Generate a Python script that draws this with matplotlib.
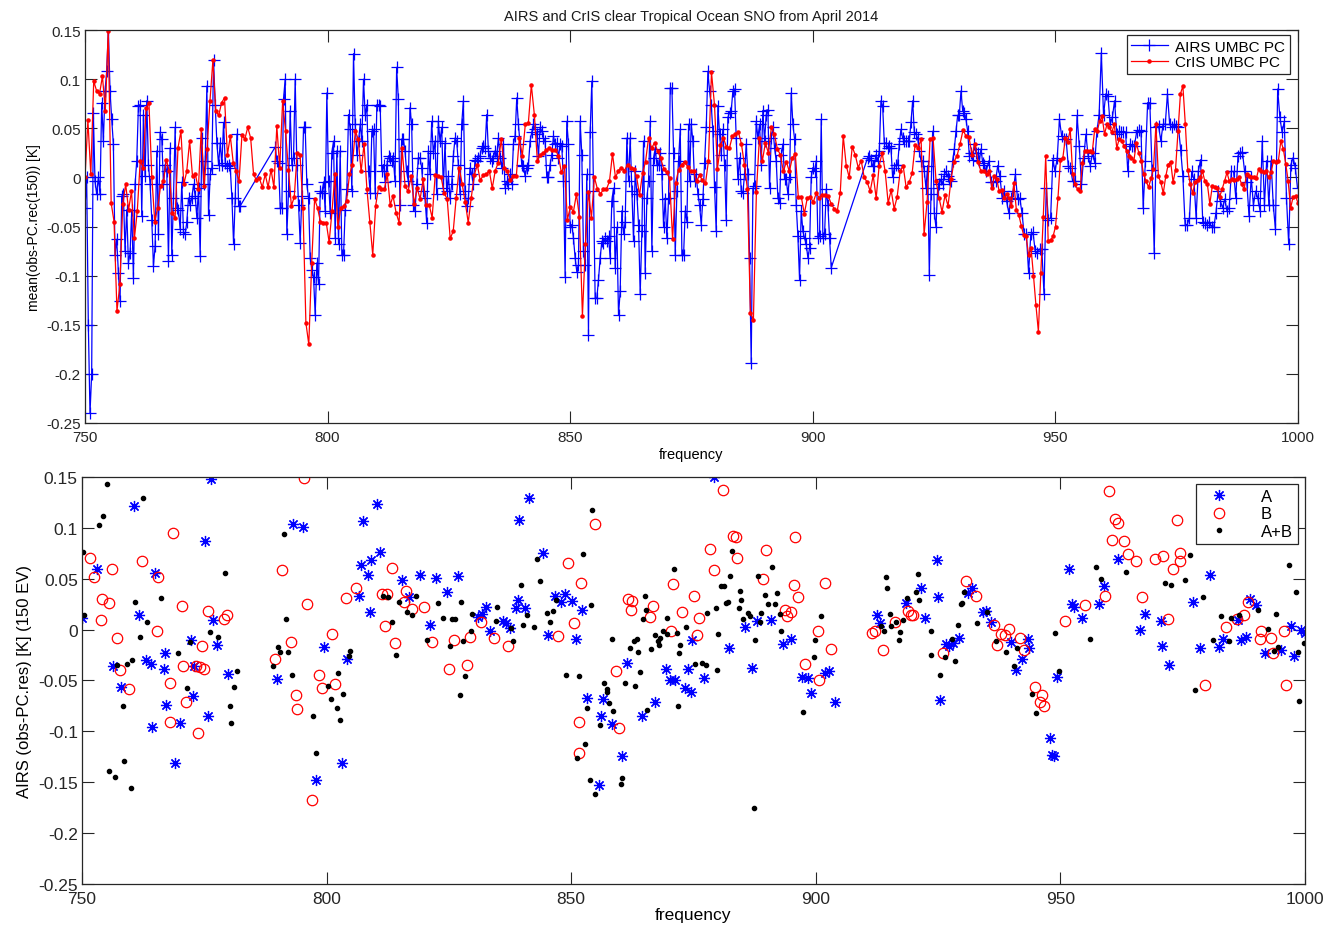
import matplotlib
matplotlib.use("Agg")
import matplotlib.pyplot as plt
import numpy as np
from matplotlib.ticker import FuncFormatter

plt.rcParams["font.family"] = ["Liberation Sans", "DejaVu Sans"]
plt.rcParams["axes.unicode_minus"] = False

# ---------------- top panel: mean(obs - PC rec) ----------------
# AIRS UMBC PC, pieces of (start freq, end freq, values); pieces are joined by straight lines
AIRS_P1 = (750.0, 782.0, [
    -0.031, 0.000, -0.150, -0.240, -0.200, 0.066, -0.004, -0.017, 0.000, -0.017,
    0.076, 0.037, 0.088, 0.108, 0.151, 0.088, 0.059, 0.034, -0.079, -0.063,
    -0.097, -0.126, -0.019, -0.017, -0.075, -0.033, -0.087, -0.077, -0.033, -0.102,
    -0.007, 0.017, 0.073, 0.074, -0.039, 0.064, 0.001, 0.078, 0.013, -0.007,
    -0.043, -0.090, -0.070, 0.027, -0.058, 0.046, 0.039, -0.007, 0.013, 0.006,
    -0.085, 0.030, -0.079, -0.021, 0.051, -0.031, -0.033, -0.053, -0.005, -0.056,
    -0.058, -0.045, -0.021, -0.028, -0.021, -0.007, -0.019, -0.041, -0.011, -0.080,
    0.040, -0.007, 0.017, 0.093, -0.038, 0.003, 0.010, 0.120, 0.074, 0.035,
    0.013, 0.035, 0.013, 0.056, 0.015, 0.012, 0.013, 0.010, -0.021, -0.068,
    -0.021, 0.044, -0.029, -0.029])
AIRS_P2 = (789.2, 812.9, [
    0.031, 0.017, 0.015, -0.031, -0.031, 0.080, 0.100, -0.058, -0.014, 0.068,
    0.013, 0.020, 0.100, 0.013, -0.028, -0.067, -0.019, 0.051, 0.051, -0.007,
    -0.021, -0.082, -0.094, -0.101, -0.140, -0.087, -0.109, -0.014, -0.016, -0.005,
    -0.034, 0.086, -0.004, -0.036, 0.025, 0.037, -0.062, 0.027, -0.068, 0.027,
    -0.079, -0.079, -0.033, -0.012, 0.064, 0.049, -0.014, 0.126, 0.054, 0.023,
    0.037, 0.054, 0.037, 0.100, 0.063, 0.074, 0.006, -0.016, 0.047, 0.049,
    -0.016, 0.074, 0.074, 0.073, 0.006, 0.013, -0.005, 0.013, 0.022, 0.020])
AIRS_P3 = (813.2, 874.4, [
    0.017, 0.020, -0.004, 0.112, 0.080, -0.028, 0.039, 0.039, 0.027, 0.006,
    -0.004, 0.071, 0.054, -0.028, -0.034, -0.007, 0.020, 0.020, 0.010, -0.014,
    -0.021, -0.046, 0.027, 0.003, 0.057, 0.025, 0.037, -0.017, 0.057, 0.037,
    0.051, -0.011, 0.035, -0.014, 0.001, -0.021, -0.007, 0.022, 0.040, 0.037,
    0.013, -0.017, 0.054, 0.078, -0.014, -0.029, -0.021, 0.010, 0.003, -0.007,
    0.018, 0.017, 0.020, 0.022, 0.030, 0.032, 0.030, 0.064, 0.027, 0.020,
    0.017, 0.020, 0.027, 0.022, 0.040, 0.020, 0.010, 0.034, -0.011, -0.004,
    -0.007, 0.003, -0.007, 0.034, 0.042, 0.081, 0.054, 0.034, 0.013, 0.012,
    0.001, 0.010, 0.013, 0.037, 0.046, 0.054, 0.049, 0.044, 0.022, 0.051,
    0.047, 0.040, 0.037, 0.000, 0.000, 0.013, 0.023, 0.042, 0.034, 0.035,
    0.020, 0.034, 0.032, -0.004, -0.101, 0.057, 0.034, -0.051, -0.048, -0.062,
    -0.082, -0.096, -0.089, 0.057, 0.023, -0.075, -0.089, 0.003, -0.160, 0.046,
    0.098, -0.014, -0.123, -0.123, -0.104, -0.082, -0.065, -0.067, -0.062, -0.065,
    -0.060, -0.082, -0.024, -0.011, -0.092, -0.051, -0.140, -0.116, -0.034, -0.058,
    -0.045, 0.040, -0.004, 0.040, -0.014, -0.065, 0.006, -0.017, -0.048, -0.119,
    -0.055, 0.037, -0.097, -0.021, -0.004, 0.057, -0.075, 0.020, 0.029, 0.013,
    0.013, 0.025, 0.003, -0.050, -0.022, -0.062, -0.021, 0.091, 0.091, 0.025,
    -0.079, -0.014, 0.017, 0.049, -0.079, -0.079, -0.034, -0.045, 0.054])
AIRS_P4 = (874.6, 903.8, [
    -0.004, 0.054, 0.037, -0.004, 0.003, -0.017, -0.028, -0.048, -0.022, 0.015,
    0.051, 0.108, 0.088, 0.074, 0.047, -0.010, -0.055, 0.073, 0.044, 0.023,
    0.049, 0.013, -0.043, 0.061, 0.066, 0.068, 0.088, 0.090, 0.040, -0.002,
    0.020, -0.014, -0.016, 0.003, 0.034, 0.003, -0.082, -0.189, -0.011, -0.009,
    0.057, 0.040, 0.054, 0.013, 0.068, 0.037, 0.064, 0.069, -0.011, 0.040,
    0.051, 0.030, 0.017, -0.021, -0.026, 0.023, 0.034, -0.002, -0.002, -0.017,
    0.000, 0.086, 0.054, 0.039, -0.028, -0.060, -0.104, -0.034, -0.055, -0.062,
    -0.068, -0.082, -0.072, 0.000, 0.010, 0.006, 0.017, -0.062, -0.060, 0.059,
    -0.062, -0.058, -0.012, -0.028, -0.062, -0.092])
AIRS_P5 = (911.3, 935.7, [
    0.020, 0.022, 0.018, 0.012, 0.012, 0.023, 0.017, 0.027, 0.078, 0.073,
    0.035, 0.035, 0.030, 0.032, 0.030, 0.000, 0.010, 0.013, 0.013, 0.034,
    0.049, 0.040, 0.037, 0.037, 0.037, 0.037, 0.056, 0.078, 0.046, 0.044,
    0.040, 0.027, 0.017, 0.017, 0.006, -0.011, 0.012, -0.099, -0.017, 0.047,
    -0.036, -0.051, -0.011, -0.007, -0.002, -0.007, 0.003, 0.006, 0.001, -0.002,
    -0.004, 0.017, 0.029, 0.047, 0.063, 0.064, 0.088, 0.068, 0.066, 0.059,
    0.047, 0.022, 0.025, 0.018, 0.034, 0.025, 0.025, 0.017, 0.029, 0.015,
    0.013, 0.006])
AIRS_P6 = (936.3, 999.9, [
    0.017, -0.005, -0.005, -0.004, 0.012, 0.001, -0.021, -0.014, -0.024, -0.036,
    -0.021, -0.014, 0.003, -0.022, -0.021, -0.036, -0.058, -0.058, -0.097, -0.058,
    -0.056, -0.075, -0.077, -0.073, -0.073, -0.119, -0.011, -0.043, -0.041, 0.018,
    0.006, 0.020, 0.059, 0.042, 0.039, 0.039, 0.012, 0.010, -0.004, -0.004,
    0.063, 0.032, -0.007, 0.020, 0.044, 0.022, 0.012, 0.025, 0.015, 0.047,
    0.064, 0.127, 0.063, 0.085, 0.083, 0.054, 0.061, 0.078, 0.044, 0.047,
    0.046, 0.046, 0.046, 0.006, 0.034, 0.032, 0.032, 0.046, 0.048, 0.047,
    -0.031, 0.017, 0.076, 0.076, 0.008, -0.077, 0.051, 0.052, 0.037, 0.054,
    0.054, 0.085, 0.054, 0.051, 0.054, 0.052, 0.051, 0.028, 0.001, -0.048,
    -0.048, -0.041, 0.006, -0.002, -0.041, 0.006, 0.018, -0.045, -0.046, -0.048,
    -0.045, -0.051, -0.051, -0.036, -0.014, -0.024, -0.031, -0.022, -0.034, -0.031,
    0.006, 0.006, -0.021, 0.022, 0.025, 0.026, 0.006, -0.005, -0.039, 0.000,
    -0.028, -0.014, -0.021, -0.034, 0.037, -0.028, 0.017, -0.028, 0.017, -0.028,
    -0.053, 0.090, 0.061, 0.046, 0.057, -0.021, -0.068, 0.013, 0.020, 0.010,
    -0.011])

# CrIS UMBC PC
CRIS_P1 = (750.0, 812.9, [
    0.000, 0.058, 0.003, 0.098, 0.088, 0.085, 0.103, 0.068, 0.149, -0.026,
    -0.045, -0.136, -0.109, -0.027, -0.007, -0.033, -0.014, -0.062, -0.034, 0.017,
    0.010, 0.071, 0.076, 0.000, -0.045, -0.031, -0.009, -0.004, 0.018, 0.006,
    -0.036, -0.041, 0.030, 0.047, -0.007, 0.006, 0.037, 0.001, 0.003, -0.012,
    0.049, -0.009, 0.029, 0.078, 0.119, 0.068, 0.063, 0.076, 0.081, 0.023,
    0.042, 0.015, 0.006, -0.004, 0.043, 0.039, 0.051, 0.040, 0.003, -0.003,
    -0.001, -0.010, 0.003, -0.010, 0.008, -0.010, 0.052, 0.010, 0.078, 0.047,
    0.008, -0.029, -0.020, 0.025, 0.023, -0.031, -0.148, -0.170, -0.087, -0.022,
    -0.031, -0.045, -0.046, -0.046, -0.066, -0.034, 0.003, -0.050, -0.031, -0.029,
    -0.024, 0.003, 0.013, 0.047, 0.039, 0.006, 0.034, -0.012, -0.045, -0.079,
    -0.029, -0.010, -0.012, -0.012, 0.003, -0.028])
CRIS_P2 = (813.5, 874.2, [
    -0.019, -0.036, -0.046, 0.030, -0.009, -0.014, 0.001, -0.027, -0.011, -0.022,
    -0.002, -0.028, -0.028, -0.041, 0.002, 0.001, 0.000, -0.016, -0.022, -0.062,
    -0.055, -0.021, 0.010, -0.007, -0.025, -0.046, -0.021, 0.002, 0.013, -0.003,
    0.002, 0.003, 0.007, -0.011, 0.007, 0.015, 0.039, 0.010, 0.006, -0.003,
    0.001, 0.001, 0.040, 0.022, 0.054, 0.055, 0.094, 0.064, 0.017, 0.023,
    0.025, 0.028, 0.030, 0.028, 0.028, 0.022, 0.005, 0.012, -0.043, -0.030,
    -0.035, -0.017, -0.040, -0.141, -0.068, -0.015, -0.041, 0.000, -0.012, -0.017,
    -0.012, -0.012, -0.004, 0.024, 0.000, 0.007, 0.010, 0.007, 0.013, 0.010,
    0.009, 0.001, -0.018, 0.004, 0.016, 0.040, 0.030, 0.035, 0.027, 0.020,
    0.009, 0.005, -0.001, -0.063, -0.006, 0.008, 0.013, 0.016, 0.011])
CRIS_P3 = (874.8, 935.9, [
    0.006, 0.007, -0.004, 0.002, -0.003, -0.006, 0.017, 0.107, 0.074, 0.009,
    0.033, 0.040, 0.031, 0.030, 0.042, 0.044, 0.046, 0.034, 0.013, -0.012,
    -0.138, -0.145, -0.015, 0.040, 0.017, 0.035, 0.025, 0.051, 0.044, 0.029,
    0.023, 0.006, 0.016, 0.006, 0.020, 0.024, -0.020, -0.020, -0.037, -0.021,
    -0.020, -0.025, -0.016, -0.021, -0.018, -0.018, -0.019, -0.027, -0.032, -0.034,
    -0.016, 0.042, 0.012, 0.000, 0.031, 0.023, 0.010, 0.017, 0.000, -0.005,
    -0.014, 0.002, -0.021, 0.012, 0.025, 0.006, -0.026, -0.013, -0.032, -0.020,
    0.006, 0.012, -0.010, -0.005, 0.004, 0.033, 0.030, 0.039, -0.058, -0.025,
    0.039, 0.040, -0.004, -0.021, -0.035, -0.018, -0.029, -0.002, 0.016, 0.022,
    0.034, 0.048, 0.042, 0.041, 0.023, 0.034, 0.016, 0.006, 0.006, 0.003])
CRIS_P4 = (936.4, 1000.0, [
    0.006, -0.011, 0.001, -0.002, -0.014, -0.013, -0.021, -0.017, -0.021, -0.029,
    -0.006, -0.033, -0.038, -0.049, -0.059, -0.060, -0.079, -0.072, -0.100, -0.130,
    -0.157, -0.097, -0.040, 0.022, -0.065, -0.064, -0.060, -0.050, -0.021, 0.018,
    0.020, 0.040, 0.036, 0.049, 0.003, -0.007, -0.012, -0.014, 0.015, 0.027,
    0.027, 0.027, 0.026, 0.049, 0.047, 0.057, 0.062, 0.044, 0.054, 0.051,
    0.046, 0.054, 0.030, 0.039, 0.037, 0.032, 0.027, 0.022, 0.020, 0.017,
    0.035, 0.025, 0.017, 0.003, -0.004, -0.010, -0.001, 0.009, 0.054, 0.001,
    -0.005, -0.016, 0.001, 0.013, 0.016, -0.005, 0.008, 0.047, 0.085, 0.093,
    0.054, 0.008, -0.007, -0.016, -0.005, -0.003, 0.000, 0.006, -0.004, -0.007,
    -0.027, -0.009, -0.010, -0.011, -0.020, -0.012, -0.004, 0.005, -0.004, -0.002,
    -0.003, -0.002, 0.000, -0.007, -0.012, 0.003, 0.001, 0.000, 0.000, -0.001,
    0.009, 0.006, 0.005, 0.006, 0.000, 0.005, 0.017, 0.016, 0.017, 0.037,
    0.029, 0.014, -0.004, -0.031, -0.020, -0.019, -0.026])

# ---------------- bottom panel: AIRS (obs - PC res) ----------------
A_FREQ = [750.0, 753.1, 756.3, 758.0, 760.7, 761.7, 763.0, 764.1, 764.3, 764.9,
          766.8, 767.0, 767.2, 769.0, 770.0, 772.3, 772.8, 773.0, 775.1, 775.7,
          776.4, 776.8, 777.7, 779.9, 789.8, 793.2, 795.2, 797.8, 799.5, 803.1,
          804.2, 806.7, 807.0, 807.4, 808.5, 808.9, 809.1, 810.4, 810.9, 815.4,
          816.9, 819.1, 821.1, 822.4, 824.6, 826.9, 831.0, 831.8, 832.7, 833.4,
          836.0, 836.6, 837.5, 838.7, 839.1, 839.3, 840.6, 841.4, 844.2, 845.3,
          846.7, 847.9, 848.7, 850.1, 851.0, 852.3, 853.2, 855.8, 856.2, 856.6,
          858.3, 860.5, 861.4, 864.5, 867.1, 869.4, 870.3, 871.2, 873.2, 873.8,
          874.5, 874.7, 877.1, 879.2, 882.3, 885.5, 887.0, 888.1, 890.8, 893.3,
          895.0, 897.1, 898.5, 899.1, 902.0, 902.7, 903.9, 912.6, 913.1, 918.4,
          921.6, 922.3, 924.8, 924.9, 925.4, 926.7, 927.2, 928.1, 929.3, 931.2,
          932.0, 934.2, 934.9, 935.9, 939.9, 941.0, 942.2, 943.3, 943.6, 947.8,
          948.3, 948.7, 949.4, 951.7, 952.4, 952.8, 954.4, 957.9, 958.9, 961.8,
          966.2, 967.3, 970.5, 970.7, 972.2, 977.1, 978.6, 980.5, 982.4, 983.3,
          986.3, 987.0, 988.0, 988.7, 990.1, 991.8, 995.2, 997.2, 997.7, 999.3,
          1000.0]
A_VALS = [0.011, 0.060, -0.036, -0.056, 0.121, 0.014, -0.030, -0.034, -0.096, 0.056,
          -0.039, -0.023, -0.074, -0.131, -0.092, -0.010, -0.065, -0.036, 0.087, -0.085,
          0.148, 0.009, -0.015, -0.044, -0.049, 0.104, 0.101, -0.148, -0.017, -0.131,
          -0.029, 0.033, 0.063, 0.107, 0.054, 0.017, 0.068, 0.123, 0.076, 0.049,
          0.032, 0.054, 0.005, 0.051, 0.037, 0.053, 0.012, 0.015, 0.022, -0.001,
          0.008, 0.006, 0.002, 0.021, 0.029, 0.108, 0.021, 0.129, 0.075, -0.005,
          0.033, 0.027, 0.035, 0.028, -0.009, 0.019, -0.067, -0.153, -0.085, -0.068,
          -0.093, -0.124, -0.033, -0.085, -0.071, -0.039, -0.050, -0.050, -0.057, -0.039,
          -0.061, -0.010, -0.048, 0.150, -0.018, 0.003, -0.038, 0.008, 0.009, -0.014,
          -0.009, -0.047, -0.048, -0.062, -0.043, -0.041, -0.071, 0.014, 0.006, 0.026,
          0.041, 0.011, 0.068, 0.032, -0.069, -0.014, -0.016, -0.013, -0.008, 0.036,
          0.041, 0.017, 0.018, 0.007, -0.012, -0.040, -0.029, -0.009, -0.018, -0.107,
          -0.123, -0.124, -0.047, 0.060, 0.025, 0.022, 0.011, 0.025, 0.043, 0.069,
          0.000, 0.015, 0.008, -0.016, -0.035, 0.027, -0.018, 0.054, -0.017, -0.009,
          0.009, -0.010, -0.007, 0.030, 0.024, -0.023, -0.020, 0.004, -0.026, 0.000,
          -0.003]

B_FREQ = [751.6, 752.5, 753.8, 754.0, 755.5, 756.2, 757.1, 757.8, 759.6, 762.3,
          765.4, 765.6, 767.9, 768.0, 768.6, 770.4, 770.7, 771.2, 773.3, 773.8,
          774.1, 774.5, 775.0, 775.7, 779.0, 779.7, 789.5, 790.8, 792.7, 793.7,
          794.0, 795.4, 796.1, 797.1, 798.5, 799.1, 801.2, 801.7, 804.0, 806.1,
          811.3, 811.9, 812.3, 813.3, 814.0, 815.9, 816.2, 817.4, 819.9, 821.6,
          825.0, 826.1, 828.7, 829.3, 831.5, 834.2, 837.0, 847.4, 849.4, 850.6,
          851.6, 851.6, 852.1, 854.9, 859.2, 859.7, 861.7, 862.2, 862.4, 866.2,
          866.7, 870.5, 870.8, 872.7, 875.2, 875.8, 876.1, 878.4, 879.2, 881.0,
          883.1, 883.7, 883.9, 889.3, 889.9, 893.7, 894.2, 894.9, 895.5, 895.7,
          896.4, 897.8, 900.4, 900.6, 901.9, 903.1, 911.6, 912.1, 913.8, 916.3,
          918.9, 919.4, 919.9, 926.1, 930.8, 932.7, 936.5, 937.1, 937.8, 938.6,
          939.5, 941.7, 942.5, 944.8, 945.9, 946.3, 946.7, 951.0, 955.1, 959.1,
          960.0, 960.6, 961.1, 961.7, 963.0, 963.8, 965.5, 966.7, 969.3, 971.0,
          972.0, 973.0, 973.9, 974.4, 974.4, 979.5, 983.8, 986.1, 987.6, 988.4,
          990.8, 991.1, 993.0, 993.4, 995.7, 996.2]
B_VALS = [0.070, 0.052, 0.009, 0.030, 0.026, 0.060, -0.008, -0.040, -0.058, 0.067,
          -0.001, 0.052, -0.091, -0.052, 0.095, 0.023, -0.036, -0.071, -0.036, -0.102,
          -0.037, -0.016, -0.039, 0.018, 0.010, 0.014, -0.029, 0.059, -0.012, -0.064,
          -0.078, 0.149, 0.025, -0.167, -0.045, -0.057, -0.004, -0.053, 0.031, 0.041,
          0.035, 0.004, 0.035, 0.061, -0.013, 0.027, 0.038, 0.020, 0.022, -0.012,
          -0.039, -0.010, -0.035, -0.007, 0.007, -0.008, -0.016, -0.006, 0.065, 0.006,
          -0.091, -0.121, 0.046, 0.104, -0.041, -0.097, 0.030, 0.019, 0.028, 0.012,
          0.023, -0.001, 0.045, 0.017, 0.033, -0.005, 0.011, 0.079, 0.059, 0.137,
          0.092, 0.091, 0.070, 0.050, 0.078, 0.019, 0.013, 0.017, 0.044, 0.091,
          0.032, -0.034, -0.001, -0.050, 0.046, -0.019, -0.003, -0.001, -0.020, 0.007,
          0.018, 0.014, 0.014, -0.023, 0.048, 0.033, 0.005, -0.015, -0.004, -0.005,
          0.001, -0.008, -0.020, -0.056, -0.071, -0.064, -0.075, 0.008, 0.024, 0.033,
          0.136, 0.088, 0.109, 0.105, 0.087, 0.074, 0.067, 0.032, 0.069, 0.072,
          0.010, 0.060, 0.108, 0.075, 0.067, -0.054, 0.003, 0.010, 0.014, 0.027,
          -0.009, -0.001, -0.008, -0.023, -0.001, -0.054]

AB_FREQ = [750.3, 750.5, 753.5, 754.4, 755.1, 755.5, 756.7, 757.1, 758.4, 758.7,
           759.3, 760.0, 760.3, 760.9, 761.9, 762.5, 763.2, 766.1, 769.7, 771.4,
           772.1, 776.2, 777.8, 779.2, 780.3, 780.5, 781.0, 781.7, 789.1, 790.0,
           790.5, 791.4, 791.8, 792.2, 793.0, 797.2, 797.8, 800.3, 800.9, 802.1,
           802.3, 802.8, 803.4, 804.6, 804.8, 811.5, 812.6, 813.3, 814.2, 814.9,
           816.4, 817.5, 818.2, 820.5, 822.8, 823.8, 825.2, 825.6, 826.3, 827.3,
           827.5, 828.0, 828.4, 829.5, 829.8, 834.6, 834.9, 837.8, 838.2, 839.7,
           840.2, 840.9, 842.5, 843.0, 843.7, 845.0, 845.7, 846.2, 846.9, 848.9,
           851.3, 851.7, 852.5, 852.8, 853.3, 853.8, 854.1, 854.3, 854.9, 856.0,
           856.8, 857.3, 857.4, 857.8, 858.4, 858.6, 860.1, 860.3, 861.0, 862.0,
           862.9, 863.0, 863.5, 863.7, 864.1, 864.7, 865.1, 865.4, 865.6, 866.3,
           867.1, 867.8, 868.0, 868.2, 868.8, 869.6, 869.7, 871.1, 871.6, 871.9,
           872.1, 872.2, 873.4, 875.3, 876.7, 877.5, 877.8, 879.7, 879.9, 880.1,
           880.6, 881.3, 881.6, 882.0, 882.4, 882.9, 884.4, 884.6, 884.8, 885.2,
           886.1, 886.5, 887.3, 887.6, 888.2, 888.6, 888.9, 889.6, 890.3, 891.0,
           891.6, 892.0, 892.7, 892.9, 897.4, 899.6, 899.8, 901.0, 913.3, 914.0,
           914.4, 914.6, 915.1, 915.4, 916.5, 917.0, 917.2, 917.8, 918.6, 920.4,
           920.9, 921.1, 923.5, 923.5, 925.5, 926.4, 927.8, 928.5, 929.0, 929.7,
           930.0, 930.3, 932.9, 935.1, 936.8, 938.8, 940.5, 941.2, 944.2, 945.1,
           948.9, 949.7, 956.0, 957.2, 958.3, 963.4, 971.5, 972.7, 975.4, 976.6,
           977.5, 979.1, 981.2, 982.8, 984.5, 984.8, 986.5, 990.4, 992.5, 993.6,
           994.1, 994.5, 996.7, 998.1, 998.5, 998.8, 999.8]
AB_VALS = [0.076, 0.014, 0.103, 0.112, 0.143, -0.139, -0.145, -0.035, -0.075, -0.129,
           -0.034, -0.156, -0.030, 0.027, -0.007, 0.129, 0.007, 0.031, -0.023, -0.057,
           -0.012, -0.002, -0.007, 0.056, -0.075, -0.092, -0.056, -0.041, -0.036, -0.017,
           -0.022, 0.094, 0.010, -0.022, -0.045, -0.085, -0.121, -0.055, -0.068, -0.077,
           -0.043, -0.089, -0.063, -0.026, -0.021, 0.033, 0.032, 0.007, -0.025, 0.027,
           0.017, 0.014, 0.033, -0.010, 0.026, 0.011, -0.016, 0.010, 0.010, -0.064,
           0.027, -0.011, -0.046, -0.001, 0.015, 0.008, 0.022, 0.002, -0.011, 0.044,
           0.005, 0.014, 0.003, 0.069, 0.048, 0.016, 0.007, 0.018, 0.029, -0.045,
           -0.126, -0.046, 0.074, -0.112, -0.077, -0.148, 0.024, 0.118, -0.162, -0.094,
           -0.052, -0.058, -0.061, -0.072, -0.009, -0.080, -0.152, -0.146, -0.052, -0.018,
           -0.011, -0.055, -0.009, -0.022, -0.042, 0.010, 0.033, 0.019, -0.079, -0.019,
           -0.005, -0.011, -0.015, -0.008, -0.001, 0.011, -0.004, 0.060, -0.003, -0.075,
           -0.023, -0.015, 0.003, -0.034, -0.033, -0.035, 0.016, 0.021, -0.040, -0.004,
           0.043, 0.043, 0.026, 0.027, 0.053, 0.077, 0.021, 0.038, 0.029, 0.010,
           0.016, 0.013, -0.175, -0.010, 0.053, 0.007, 0.016, 0.034, 0.025, 0.062,
           0.025, 0.036, 0.015, -0.001, -0.081, -0.027, -0.010, 0.013, 0.004, -0.001,
           0.052, 0.041, 0.015, 0.004, 0.007, -0.010, -0.002, 0.009, 0.031, 0.037,
           0.055, 0.029, -0.001, -0.025, -0.045, -0.027, -0.009, -0.031, 0.005, 0.025,
           0.026, 0.037, 0.006, 0.017, -0.011, -0.022, -0.036, -0.018, -0.063, -0.082,
           -0.003, -0.041, -0.009, 0.062, 0.050, 0.057, 0.046, 0.044, 0.049, 0.073,
           -0.059, 0.032, -0.010, 0.013, -0.011, 0.011, 0.014, 0.019, 0.001, -0.021,
           0.015, -0.017, 0.063, 0.037, -0.022, -0.070, -0.013]

Y_TICKS = [-0.25, -0.2, -0.15, -0.1, -0.05, 0, 0.05, 0.1, 0.15]
X_TICKS = [750, 800, 850, 900, 950, 1000]


def join_pieces(pieces):
    freqs, vals = [], []
    for start, stop, values in pieces:
        freqs.append(np.linspace(start, stop, len(values)))
        vals.append(np.asarray(values))
    return np.concatenate(freqs), np.concatenate(vals)


def style_axes(ax, fontsize, xpad):
    ax.set_xlim(750, 1000)
    ax.set_ylim(-0.25, 0.15)
    ax.set_xticks(X_TICKS)
    ax.set_yticks(Y_TICKS)
    ax.yaxis.set_major_formatter(FuncFormatter(lambda v, p: f"{round(v, 2):g}"))
    ax.tick_params(direction="in", length=8.5, width=0.8, top=True, right=True,
                   labelsize=fontsize, colors="#262626", pad=3)
    ax.tick_params(axis="x", pad=xpad)
    for sp in ax.spines.values():
        sp.set_linewidth(0.9)
        sp.set_color("#262626")


fig = plt.figure(figsize=(13.28, 9.29), dpi=100)

# top panel
ax1 = fig.add_axes([0.0640, 0.5436, 0.9134, 0.4230])
airs_f, airs_v = join_pieces([AIRS_P1, AIRS_P2, AIRS_P3, AIRS_P4, AIRS_P5, AIRS_P6])
cris_f, cris_v = join_pieces([CRIS_P1, CRIS_P2, CRIS_P3, CRIS_P4])
ax1.plot(airs_f, airs_v, color="b", lw=0.9, marker="+", ms=8, mew=0.9,
         label="AIRS UMBC PC")
ax1.plot(cris_f, cris_v, color="r", lw=0.9, marker=".", ms=4.5, label="CrIS UMBC PC")
style_axes(ax1, 11, 5)
ax1.set_title("AIRS and CrIS clear Tropical Ocean SNO from April 2014",
              fontsize=10.5, pad=7, color="#1a1a1a")
ax1.set_xlabel("frequency", fontsize=10.5, labelpad=2)
ax1.set_ylabel("mean(obs-PC.rec(150)) [K]", fontsize=10, labelpad=4)
leg1 = ax1.legend(loc="upper right", bbox_to_anchor=(0.9934, 0.987), borderaxespad=0,
                  fontsize=11, fancybox=False, framealpha=1, edgecolor="#262626",
                  handlelength=2.4, labelspacing=0.1, borderpad=0.3,
                  handletextpad=0.5)
leg1.get_frame().set_linewidth(0.9)

# bottom panel
ax2 = fig.add_axes([0.0617, 0.0474, 0.9209, 0.4381])
ax2.plot(A_FREQ, A_VALS, ls="none", marker=(8, 2, 0), ms=8, mew=0.9, color="b",
         label="A")
ax2.plot(B_FREQ, B_VALS, ls="none", marker="o", ms=7.5, mfc="none", mec="r",
         mew=0.9, label="B")
ax2.plot(AB_FREQ, AB_VALS, ls="none", marker="o", ms=3, color="k", label="A+B")
style_axes(ax2, 12.5, 5)
ax2.set_xlabel("frequency", fontsize=12.5, labelpad=1)
ax2.set_ylabel("AIRS (obs-PC.res) [K] (150 EV)", fontsize=12, labelpad=4)
leg2 = ax2.legend(loc="upper right", bbox_to_anchor=(0.9943, 0.983), borderaxespad=0,
                  fontsize=12, fancybox=False, framealpha=1, edgecolor="#262626",
                  handlelength=2.2, labelspacing=0.15, borderpad=0.3,
                  handletextpad=1.4)
leg2.get_frame().set_linewidth(0.9)

fig.savefig("out.png", dpi=100)
